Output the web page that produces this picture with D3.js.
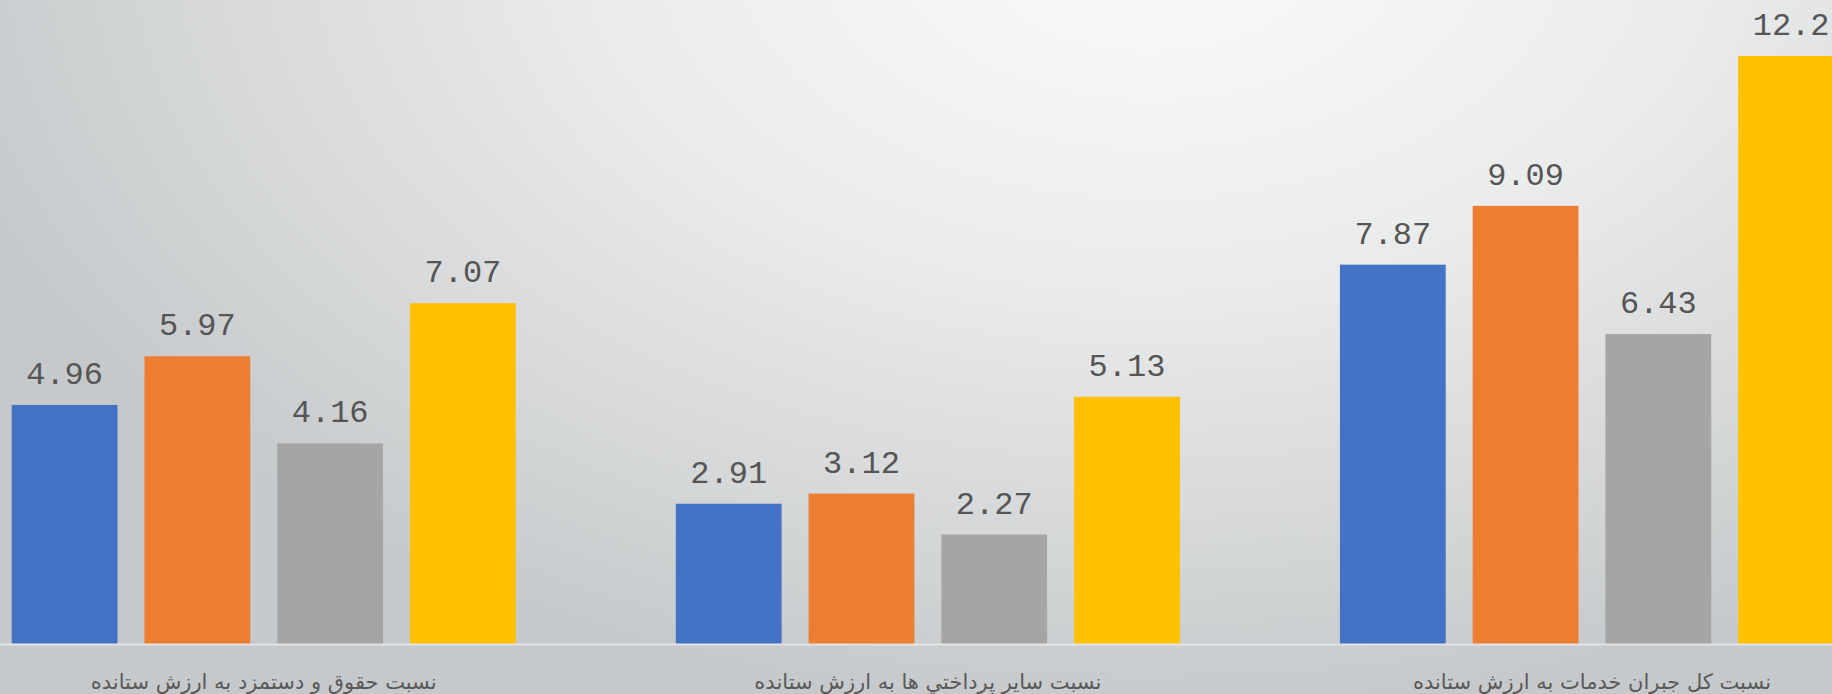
<!DOCTYPE html>
<html>
<head>
<meta charset="utf-8">
<script src="https://cdn.jsdelivr.net/npm/d3@7"></script>
<style>
  html, body { margin: 0; padding: 0; overflow: hidden; }
  svg { display: block; }
</style>
</head>
<body>
<div id="chart"></div>
<script>
'use strict';

// categories, left to right as drawn
const categories = [
    'نسبت حقوق و دستمزد به ارزش ستانده',
    'نسبت سایر پرداختي ها به ارزش ستانده',
    'نسبت کل جبران خدمات به ارزش ستانده'
];

// four series, one bar each per category
const seriesNames = ['s1', 's2', 's3', 's4'];
const seriesColors = ['#4472C4', '#ED7D31', '#A5A5A5', '#FFC000'];

const s1Values = [4.96, 2.91, 7.87];
const s2Values = [5.97, 3.12, 9.09];
const s3Values = [4.16, 2.27, 6.43];
const s4Values = [7.07, 5.13, 12.2];

const WIDTH = 1832;
const HEIGHT = 694;
const BASELINE = 644;

const allValues = [s1Values, s2Values, s3Values, s4Values];

const svg = d3.select('#chart').append('svg')
    .attr('width', WIDTH)
    .attr('height', HEIGHT);

// background: soft radial glow, light at the top
const defs = svg.append('defs');
const grad = defs.append('radialGradient')
    .attr('id', 'bg')
    .attr('gradientUnits', 'userSpaceOnUse')
    .attr('cx', 1150).attr('cy', -60)
    .attr('r', 1250)
    .attr('gradientTransform', 'translate(1150,-60) scale(1,0.62) translate(-1150,60)');
grad.append('stop').attr('offset', '0%').attr('stop-color', '#fbfbfb');
grad.append('stop').attr('offset', '45%').attr('stop-color', '#eaebeb');
grad.append('stop').attr('offset', '100%').attr('stop-color', '#c6c9cb');

svg.append('rect')
    .attr('width', WIDTH).attr('height', HEIGHT)
    .attr('fill', 'url(#bg)');

// the plot area is wider than the picture, the last bar is cut off
const x0 = d3.scaleBand()
    .domain(categories)
    .range([-68.3, 1924]);

const x1 = d3.scaleBand()
    .domain(seriesNames)
    .range([80, x0.bandwidth() - 80])
    .paddingInner(0.203);

const y = d3.scaleLinear()
    .domain([0, 14])
    .range([BASELINE, BASELINE - 14 * 48.2]);

const data = [];
categories.forEach((c, i) => {
    seriesNames.forEach((s, j) => {
        data.push({cat: c, series: s, value: allValues[j][i], color: seriesColors[j]});
    });
});

const bars = svg.append('g');

bars.selectAll('rect')
    .data(data)
    .enter()
    .append('rect')
    .attr('x', d => x0(d.cat) + x1(d.series))
    .attr('y', d => y(d.value))
    .attr('width', x1.bandwidth())
    .attr('height', d => y(0) - y(d.value))
    .attr('fill', d => d.color);

bars.selectAll('text')
    .data(data)
    .enter()
    .append('text')
    .attr('x', d => x0(d.cat) + x1(d.series) + x1.bandwidth() / 2)
    .attr('y', d => y(d.value) - 21)
    .attr('text-anchor', 'middle')
    .style('font-family', '"Liberation Mono", "Courier New", monospace')
    .style('font-size', '32px')
    .style('fill', '#555555')
    .text(d => d.value);

// category axis
const xAxis = svg.append('g')
    .attr('transform', 'translate(0,' + BASELINE + ')')
    .call(d3.axisBottom(x0).tickSize(0).tickPadding(0));

xAxis.select('.domain')
    .attr('d', 'M0,0.5H' + WIDTH)
    .attr('stroke', '#e2e4e5')
    .attr('stroke-width', 2);

xAxis.selectAll('text')
    .attr('y', 45)
    .attr('dy', 0)
    .style('font-family', '"DejaVu Sans", sans-serif')
    .style('font-size', '21px')
    .style('fill', '#595959');
</script>
</body>
</html>
